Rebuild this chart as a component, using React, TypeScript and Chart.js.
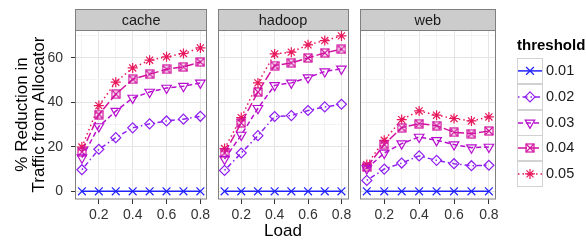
import React, { useEffect, useRef } from "react";
import { Chart, registerables } from "chart.js";
import { drawPoint } from "chart.js/helpers";

Chart.register(...registerables);

// ---------------- data ----------------
const loads = [0.1, 0.2, 0.3, 0.4, 0.5, 0.6, 0.7, 0.8];
const thresholds = ["0.01", "0.02", "0.03", "0.04", "0.05"];
const facets = ["cache", "hadoop", "web"];

const cache001 = [0, 0, 0, 0, 0, 0, 0, 0];
const cache002 = [9.7, 18.9, 24.1, 28.5, 30.3, 31.6, 32.4, 33.7];
const cache003 = [15.1, 29.1, 36.0, 41.9, 44.6, 46.4, 47.2, 48.7];
const cache004 = [17.7, 34.5, 43.6, 50.3, 52.6, 54.8, 55.9, 58.1];
const cache005 = [19.9, 38.5, 49.0, 55.4, 58.9, 60.4, 61.9, 64.4];

const hadoop001 = [0, 0, 0, 0, 0, 0, 0, 0];
const hadoop002 = [9.4, 17.2, 25.0, 33.6, 34.0, 36.3, 37.9, 39.1];
const hadoop003 = [14.5, 25.3, 37.3, 47.6, 48.7, 51.1, 53.8, 55.0];
const hadoop004 = [17.2, 30.7, 44.6, 56.5, 57.7, 59.9, 62.2, 63.8];
const hadoop005 = [19.2, 33.1, 48.7, 61.7, 62.5, 65.8, 67.7, 69.8];

const web001 = [0, 0, 0, 0, 0, 0, 0, 0];
const web002 = [4.9, 10.0, 12.7, 15.9, 13.9, 12.4, 11.5, 11.7];
const web003 = [10.2, 17.2, 21.4, 24.4, 22.9, 21.0, 19.6, 19.9];
const web004 = [10.9, 21.0, 28.6, 30.4, 29.5, 26.5, 25.9, 27.1];
const web005 = [12.0, 22.9, 32.2, 36.1, 34.2, 32.7, 31.6, 33.4];

const facetSeries = [
  [cache001, cache002, cache003, cache004, cache005],
  [hadoop001, hadoop002, hadoop003, hadoop004, hadoop005],
  [web001, web002, web003, web004, web005],
];

const xTickValues = [0.1, 0.2, 0.3, 0.4, 0.5, 0.6, 0.7, 0.8];
const yTickValues = [0, 10, 20, 30, 40, 50, 60, 70];
const xMin = 0.065;
const xMax = 0.835;
const yMin = -3.45;
const yMax = 72.45;

// ---------------- styles ----------------
const FONT = "'Liberation Sans', Arial, Helvetica, sans-serif";
const colors = ["#2222ff", "#9020f0", "#b80fcf", "#d0129e", "#e8185c"];
const dashes: number[][] = [[], [1.5, 3, 5, 3], [5, 3], [9, 3], [1.5, 3]];
const radii = [5.5, 5, 5.5, 4.5, 5];
const rotations = [0, 0, 180, 0, 0];

function squareCross(color: string): HTMLCanvasElement {
  const c = document.createElement("canvas");
  c.width = 10;
  c.height = 10;
  const g = c.getContext("2d")!;
  g.strokeStyle = color;
  g.lineWidth = 1.2;
  g.strokeRect(1, 1, 8, 8);
  g.beginPath();
  g.moveTo(1, 1);
  g.lineTo(9, 9);
  g.moveTo(9, 1);
  g.lineTo(1, 9);
  g.stroke();
  return c;
}

function pointStyleFor(i: number): any {
  if (i === 0) return "crossRot";
  if (i === 1) return "rectRot";
  if (i === 2) return "triangle";
  if (i === 3) return squareCross(colors[3]);
  return "star";
}

const isMajorY = (v: number) => Math.round(v) % 20 === 0;
const isMajorX = (v: number) => Math.round(v * 10) % 2 === 0;

const panelPlugin = {
  id: "panelDecor",
  afterDraw(chart: any) {
    const { ctx, chartArea } = chart;
    const opts = chart.options.plugins.panelDecor;
    const { left, right, top, bottom } = chartArea;
    ctx.save();
    // panel border
    ctx.strokeStyle = "#7f7f7f";
    ctx.lineWidth = 1;
    ctx.strokeRect(Math.round(left) - 0.5, Math.round(top) + 0.5, Math.round(right - left) + 1, Math.round(bottom - top) - 0.5);
    // strip
    const sh = 21;
    const st = Math.round(top) - sh;
    ctx.fillStyle = "#cccccc";
    ctx.fillRect(Math.round(left) - 0.5, st + 0.5, Math.round(right - left) + 1, sh - 0.5);
    ctx.strokeRect(Math.round(left) - 0.5, st + 0.5, Math.round(right - left) + 1, sh);
    ctx.fillStyle = "#1a1a1a";
    ctx.font = `14.5px ${FONT}`;
    ctx.textAlign = "center";
    ctx.textBaseline = "middle";
    ctx.fillText(opts.label, (left + right) / 2, st + sh / 2 + 1);

    if (opts.legend) {
      const lx = Math.round(right) + 22;
      ctx.fillStyle = "#000";
      ctx.font = `bold 15px ${FONT}`;
      ctx.textAlign = "left";
      ctx.textBaseline = "middle";
      ctx.fillText("threshold", lx, 46);
      const keyTop = 58;
      const keyH = 25.8;
      const keyW = 26;
      thresholds.forEach((t, i) => {
        const ky = Math.round(keyTop + i * keyH);
        ctx.fillStyle = "#ffffff";
        ctx.fillRect(lx, ky, keyW, keyH);
        ctx.strokeStyle = "#d2d2d2";
        ctx.lineWidth = 1;
        ctx.setLineDash([]);
        ctx.strokeRect(lx + 0.5, ky + 0.5, keyW - 1, Math.round(keyH) - 1);
        const cy = ky + keyH / 2;
        ctx.strokeStyle = colors[i];
        ctx.lineWidth = 1.5;
        ctx.setLineDash(dashes[i]);
        ctx.beginPath();
        ctx.moveTo(lx + 1, cy);
        ctx.lineTo(lx + keyW - 1, cy);
        ctx.stroke();
        ctx.setLineDash([]);
        ctx.strokeStyle = colors[i];
        ctx.fillStyle = "rgba(0,0,0,0)";
        ctx.lineWidth = 1.2;
        drawPoint(ctx, {
          pointStyle: pointStyleFor(i),
          radius: radii[i],
          rotation: rotations[i],
          borderWidth: 1.2,
        } as any, lx + keyW / 2, cy);
        ctx.fillStyle = "#1a1a1a";
        ctx.font = `14.5px ${FONT}`;
        ctx.fillText(t, lx + keyW + 3, cy + 0.5);
      });
    }
    ctx.restore();
  },
};

function makeConfig(f: number): any {
  const first = f === 0;
  const last = f === facets.length - 1;
  const series = facetSeries[f];
  return {
    type: "line",
    data: {
      datasets: thresholds.map((t, i) => ({
        label: t,
        data: loads.map((x, k) => ({ x, y: series[i][k] })),
        borderColor: colors[i],
        backgroundColor: "rgba(0,0,0,0)",
        borderWidth: 1.5,
        borderDash: dashes[i],
        pointStyle: pointStyleFor(i),
        pointRadius: radii[i],
        pointRotation: rotations[i],
        pointBorderColor: colors[i],
        pointBackgroundColor: "rgba(0,0,0,0)",
        pointBorderWidth: 1.2,
        tension: 0,
        fill: false,
      })),
    },
    plugins: [panelPlugin],
    options: {
      animation: false,
      responsive: false,
      maintainAspectRatio: false,
      events: [],
      layout: { padding: { top: 30, left: 0, right: last ? 91 : 1, bottom: 0 } },
      plugins: {
        legend: { display: false },
        tooltip: { enabled: false },
        panelDecor: { label: facets[f], legend: last },
      },
      scales: {
        x: {
          type: "linear",
          min: xMin,
          max: xMax,
          afterBuildTicks: (s: any) => {
            s.ticks = xTickValues.map((v) => ({ value: v }));
          },
          afterFit: (s: any) => {
            s.height = 43;
            s.paddingLeft = 0;
            s.paddingRight = 0;
          },
          ticks: {
            autoSkip: false,
            maxRotation: 0,
            padding: 3,
            color: "#333333",
            font: { family: FONT, size: 14 },
            callback: (v: number) => (isMajorX(v) ? v.toFixed(1) : ""),
          },
          grid: {
            color: (c: any) => (c.tick && isMajorX(c.tick.value) ? "#e5e5e5" : "#f3f3f3"),
            lineWidth: 1,
            drawTicks: true,
            tickLength: 5,
            tickColor: (c: any) => (c.tick && isMajorX(c.tick.value) ? "#333333" : "rgba(0,0,0,0)"),
          },
          border: { display: false },
          title: {
            display: f === 1,
            text: "Load",
            color: "#000",
            font: { family: FONT, size: 17, lineHeight: 1.1 },
            padding: { top: 0, bottom: 1 },
          },
        },
        y: {
          type: "linear",
          min: yMin,
          max: yMax,
          afterBuildTicks: (s: any) => {
            s.ticks = yTickValues.map((v) => ({ value: v }));
          },
          afterFit: (s: any) => {
            s.width = first ? 76 : 5;
            s.paddingTop = 0;
            s.paddingBottom = 0;
          },
          ticks: {
            display: first,
            autoSkip: false,
            padding: 8,
            color: "#333333",
            font: { family: FONT, size: 14 },
            callback: (v: number) => (isMajorY(v) ? String(v) : ""),
          },
          grid: {
            color: (c: any) => (c.tick && isMajorY(c.tick.value) ? "#e5e5e5" : "#f3f3f3"),
            lineWidth: 1,
            drawTicks: first,
            tickLength: 5,
            tickColor: (c: any) => (c.tick && isMajorY(c.tick.value) ? "#333333" : "rgba(0,0,0,0)"),
          },
          border: { display: false },
          title: {
            display: first,
            text: ["% Reduction in", "Traffic from Allocator"],
            color: "#000",
            font: { family: FONT, size: 17, lineHeight: 1.0 },
            padding: { top: 14, bottom: 0 },
          },
        },
      },
    },
  };
}

function Panel({ f, left, width }: { f: number; left: number; width: number }) {
  const ref = useRef<HTMLCanvasElement | null>(null);
  useEffect(() => {
    if (!ref.current) return;
    const chart = new Chart(ref.current, makeConfig(f));
    return () => chart.destroy();
  }, [f]);
  return (
    <div style={{ position: "absolute", left, top: 0, width, height: 242 }}>
      <canvas ref={ref} width={width} height={242} style={{ width, height: 242, display: "block" }} />
    </div>
  );
}

export default function App() {
  return (
    <div style={{ position: "fixed", left: 0, top: 0, width: 586, height: 242, background: "#fff", overflow: "hidden" }}>
      <Panel f={0} left={0} width={213} />
      <Panel f={1} left={212} width={142} />
      <Panel f={2} left={354} width={232} />
    </div>
  );
}
